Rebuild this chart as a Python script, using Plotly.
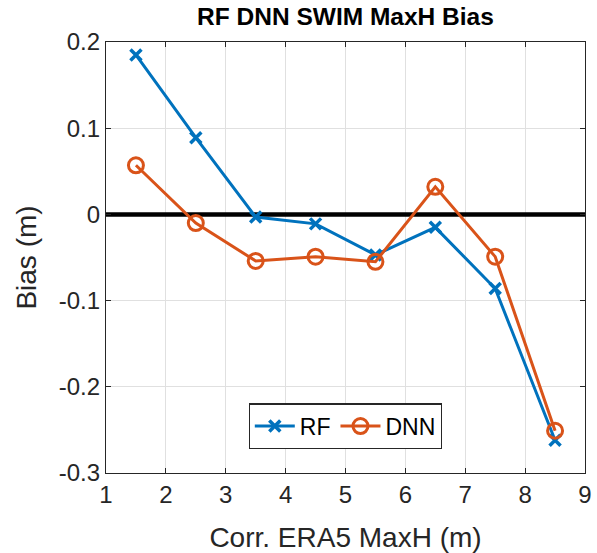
import plotly.graph_objects as go

x_vals = [1.5, 2.5, 3.5, 4.5, 5.5, 6.5, 7.5, 8.5]
rf_bias = [0.185, 0.089, -0.003, -0.011, -0.047, -0.015, -0.086, -0.262]
dnn_bias = [0.057, -0.010, -0.054, -0.049, -0.055, 0.032, -0.049, -0.251]
x_ticks = [1, 2, 3, 4, 5, 6, 7, 8, 9]
y_ticks = [-0.3, -0.2, -0.1, 0, 0.1, 0.2]
y_tick_text = ["-0.3", "-0.2", "-0.1", "0", "0.1", "0.2"]

FONT = "Liberation Sans, Arial, Helvetica"

fig = go.Figure()
fig.add_trace(go.Scatter(x=[1, 9], y=[0, 0], mode="lines",
                         line=dict(color="black", width=4.5), showlegend=False, hoverinfo="skip"))
fig.add_trace(go.Scatter(x=x_vals, y=rf_bias, mode="lines+markers", name="RF",
                         line=dict(color="#0072BD", width=3),
                         marker=dict(symbol="x-thin", size=11, line=dict(width=3.5, color="#0072BD"))))
fig.add_trace(go.Scatter(x=x_vals, y=dnn_bias, mode="lines+markers", name="DNN",
                         line=dict(color="#D95319", width=3),
                         marker=dict(symbol="circle-open", size=15, line=dict(width=3, color="#D95319"))))

axis_common = dict(showline=True, linecolor="#262626", linewidth=1.3, mirror="ticks",
                   ticks="inside", ticklen=5, tickcolor="#262626",
                   showgrid=True, gridcolor="#e0e0e0", gridwidth=1, zeroline=False,
                   ticklabeloverflow="allow",
                   tickfont=dict(family=FONT, size=24, color="#262626"),
                   title_font=dict(family=FONT, size=28, color="#262626"))

fig.update_layout(
    width=597, height=553,
    margin=dict(l=106, r=5, t=42, b=80),
    paper_bgcolor="white", plot_bgcolor="white",
    title=dict(text="<b>RF DNN SWIM MaxH Bias</b>", x=0.5, xanchor="center", xref="paper",
               y=1, yref="container", yanchor="top", pad=dict(t=8),
               font=dict(family=FONT, size=24.5, color="black")),
    xaxis=dict(range=[1, 9], tickvals=x_ticks, title=dict(text="Corr. ERA5 MaxH (m)", standoff=20), **axis_common),
    yaxis=dict(range=[-0.3, 0.2], tickvals=y_ticks, ticktext=y_tick_text,
               title=dict(text="Bias (m)", standoff=13), **axis_common),
    legend=dict(orientation="h", x=0.5, xanchor="center", y=0.055, yanchor="bottom",
                bgcolor="white", bordercolor="#262626", borderwidth=1.3,
                font=dict(family=FONT, size=23, color="black"),
                itemwidth=40),
    showlegend=True,
)

fig.write_html("out.html", config={"displayModeBar": False},
               post_script="document.body.style.margin='0';")
